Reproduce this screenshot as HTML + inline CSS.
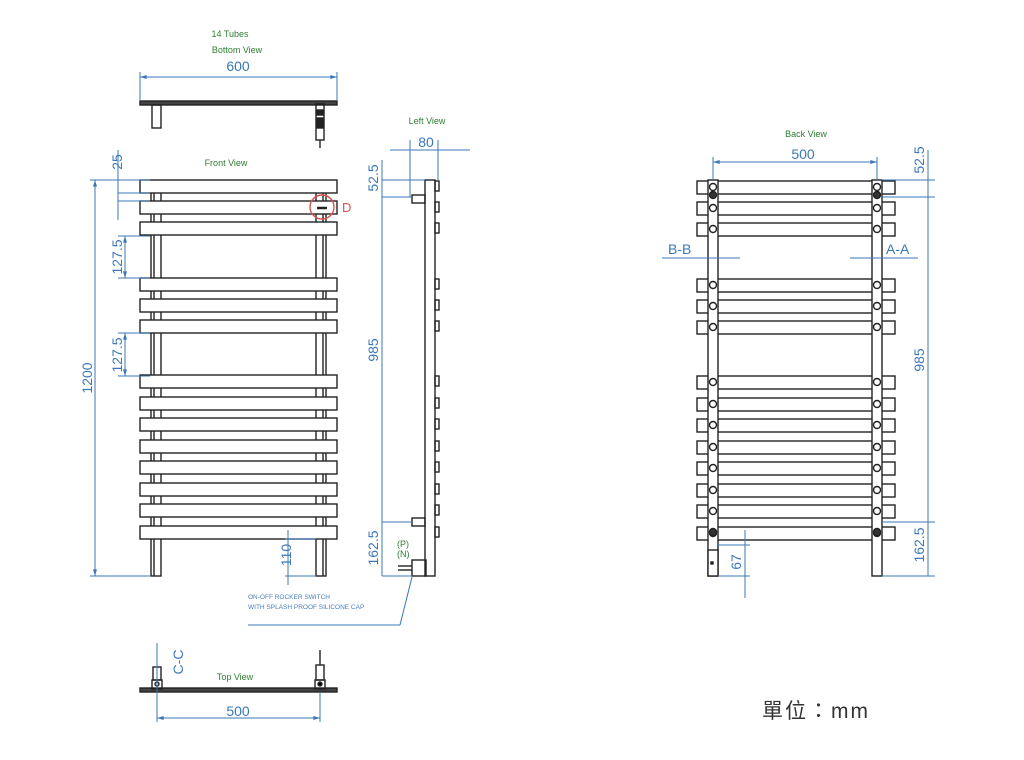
<!DOCTYPE html>
<html><head><meta charset="utf-8">
<style>
html,body{margin:0;padding:0;background:#fff;}
svg{display:block;}
.l{fill:#2e7d32;font:9px "Liberation Sans",sans-serif;}
.d{fill:#3b78b8;font:14px "Liberation Sans",sans-serif;}
.s{fill:#4a7fc0;font:6.5px "Liberation Sans",sans-serif;}
</style></head><body>
<svg id="s" width="1024" height="760" viewBox="0 0 1024 760" xmlns="http://www.w3.org/2000/svg">
<defs>
<marker id="a" viewBox="0 0 10 6" refX="10" refY="3" markerWidth="8" markerHeight="4" orient="auto-start-reverse"><path d="M0,0 L10,3 L0,6z" fill="#3b78b8"/></marker>
</defs>
<g id="g" fill="none" stroke="#222" stroke-width="1.4"></g>
<g id="dm" fill="none" stroke="#3b78b8" stroke-width="1"></g>
<text class="l" x="230" y="37" text-anchor="middle">14 Tubes</text>
<text class="l" x="237" y="53" text-anchor="middle">Bottom View</text>
<text class="d" x="238" y="71" text-anchor="middle">600</text>
<text class="l" x="226" y="166" text-anchor="middle">Front View</text>
<text class="l" x="427" y="124" text-anchor="middle">Left View</text>
<text class="d" x="426" y="147" text-anchor="middle">80</text>
<text class="l" x="806" y="137" text-anchor="middle">Back View</text>
<text class="d" x="803" y="159" text-anchor="middle">500</text>
<text class="l" x="235" y="680" text-anchor="middle">Top View</text>
<text class="d" x="238" y="716" text-anchor="middle">500</text>
<text fill="#d9534f" font-family="Liberation Sans,sans-serif" font-size="13" x="342" y="212">D</text>
<text class="l" x="397" y="547" font-size="10">(P)</text>
<text class="l" x="397" y="557" font-size="10">(N)</text>
<text class="s" x="248" y="599">ON-OFF ROCKER SWITCH</text>
<text class="s" x="248" y="609">WITH SPLASH PROOF SILICONE CAP</text>
<text class="d" x="668" y="254">B-B</text>
<text class="d" x="886" y="254">A-A</text>
<g class="d">
<text transform="translate(122,162) rotate(-90)" text-anchor="middle">25</text>
<text transform="translate(122,257) rotate(-90)" text-anchor="middle">127.5</text>
<text transform="translate(122,355) rotate(-90)" text-anchor="middle">127.5</text>
<text transform="translate(92,378) rotate(-90)" text-anchor="middle">1200</text>
<text transform="translate(291,555) rotate(-90)" text-anchor="middle">110</text>
<text transform="translate(378,178) rotate(-90)" text-anchor="middle">52.5</text>
<text transform="translate(378,350) rotate(-90)" text-anchor="middle">985</text>
<text transform="translate(378,548) rotate(-90)" text-anchor="middle">162.5</text>
<text transform="translate(924,160) rotate(-90)" text-anchor="middle">52.5</text>
<text transform="translate(924,360) rotate(-90)" text-anchor="middle">985</text>
<text transform="translate(924,545) rotate(-90)" text-anchor="middle">162.5</text>
<text transform="translate(741,562) rotate(-90)" text-anchor="middle">67</text>
<text transform="translate(183,662) rotate(-90)" text-anchor="middle">C-C</text>
</g>
<text x="762" y="718" fill="#333" font-family="'Liberation Sans','Noto Sans CJK TC',sans-serif" font-size="21" letter-spacing="2">單位：mm</text>
</svg>
<script>
var NS="http://www.w3.org/2000/svg",g=document.getElementById('g'),dm=document.getElementById('dm');
function e(p,t,a){var n=document.createElementNS(NS,t);for(var k in a)n.setAttribute(k,a[k]);p.appendChild(n);return n;}
function L(p,x1,y1,x2,y2,ex){var a={x1:x1,y1:y1,x2:x2,y2:y2};if(ex)for(var k in ex)a[k]=ex[k];return e(p,'line',a);}
function R(x,y,w,h,ex){var a={x:x,y:y,width:w,height:h};if(ex)for(var k in ex)a[k]=ex[k];return e(g,'rect',a);}
function D(x1,y1,x2,y2){L(dm,x1,y1,x2,y2,{'marker-start':'url(#a)','marker-end':'url(#a)'});}
var Y=[180,201,222,278,299,320,375,397,418,440,461,483,504,526];
R(151,190,10,386);R(316,190,10,386);L(g,154,190,154,576);L(g,323,190,323,576);
Y.forEach(function(y){R(140,y,197,13,{fill:'#fff'});});
e(g,'circle',{cx:322,cy:207,r:12,stroke:'#d9534f'});L(g,317,208,327,208,{'stroke-width':2.5});
R(140,101,197,4,{fill:'#444'});R(152,105,9,23);R(316,104,8,36);R(317,110,6,5,{fill:'#222'});R(317,118,6,10,{fill:'#222'});L(g,320,140,320,148);
R(425,180,10,396);Y.forEach(function(y){R(435,y+1,4,10);});
R(412,195,13,8);R(412,518,13,8);R(412,560,14,16);L(g,398,566,412,566);L(g,398,570,412,570);
Y.forEach(function(y){R(697,y+1,198,13,{fill:'#fff'});});
R(708,180,10,396,{fill:'#fff'});R(872,180,10,396,{fill:'#fff'});
Y.forEach(function(y){e(g,'circle',{cx:713,cy:y+7,r:3.5,fill:'#fff'});e(g,'circle',{cx:877,cy:y+7,r:3.5,fill:'#fff'});});
[187,524].forEach(function(y){e(g,'circle',{cx:713,cy:y+8,r:3.5,fill:'#333'});e(g,'circle',{cx:877,cy:y+8,r:3.5,fill:'#333'});});
R(708,550,10,26,{fill:'#fff'});R(711,562,2,2,{fill:'#000'});
R(140,688,197,4,{fill:'#444'});R(153,667,8,13);R(152,680,10,9);e(g,'circle',{cx:157,cy:684,r:2});
R(316,665,8,15);R(315,680,10,9);e(g,'circle',{cx:320,cy:684,r:2,fill:'#000'});L(g,320,650,320,665);
D(140,77,337,77);L(dm,140,72,140,100);L(dm,337,72,337,100);
D(95,180,95,576);L(dm,90,180,140,180);L(dm,90,576,150,576);
L(dm,118,150,118,220);L(dm,118,180,150,180);L(dm,118,193,150,193);L(dm,118,201,150,201);
L(dm,118,236,150,236);L(dm,118,278,150,278);D(125,236,125,278);
L(dm,118,333,150,333);L(dm,118,376,150,376);D(125,333,125,376);
L(dm,285,539,316,539);L(dm,285,576,316,576);L(dm,288,530,288,585);
L(dm,390,150,470,150);L(dm,410,140,410,197);L(dm,438,140,438,180);
L(dm,382,160,382,576);L(dm,382,180,425,180);L(dm,382,197,412,197);L(dm,382,522,412,522);L(dm,382,576,412,576);
L(dm,412,577,400,625);L(dm,248,625,400,625);
D(713,162,877,162);L(dm,713,157,713,180);L(dm,877,157,877,180);
L(dm,928,150,928,576);L(dm,882,180,935,180);L(dm,882,197,935,197);L(dm,882,522,935,522);L(dm,882,576,935,576);
L(dm,745,530,745,598);L(dm,718,545,750,545);L(dm,718,576,750,576);
L(dm,662,258,740,258);L(dm,850,258,918,258);
D(157,718,320,718);L(dm,157,690,157,722);L(dm,320,692,320,722);L(dm,157,643,157,700);
</script>
</body></html>
